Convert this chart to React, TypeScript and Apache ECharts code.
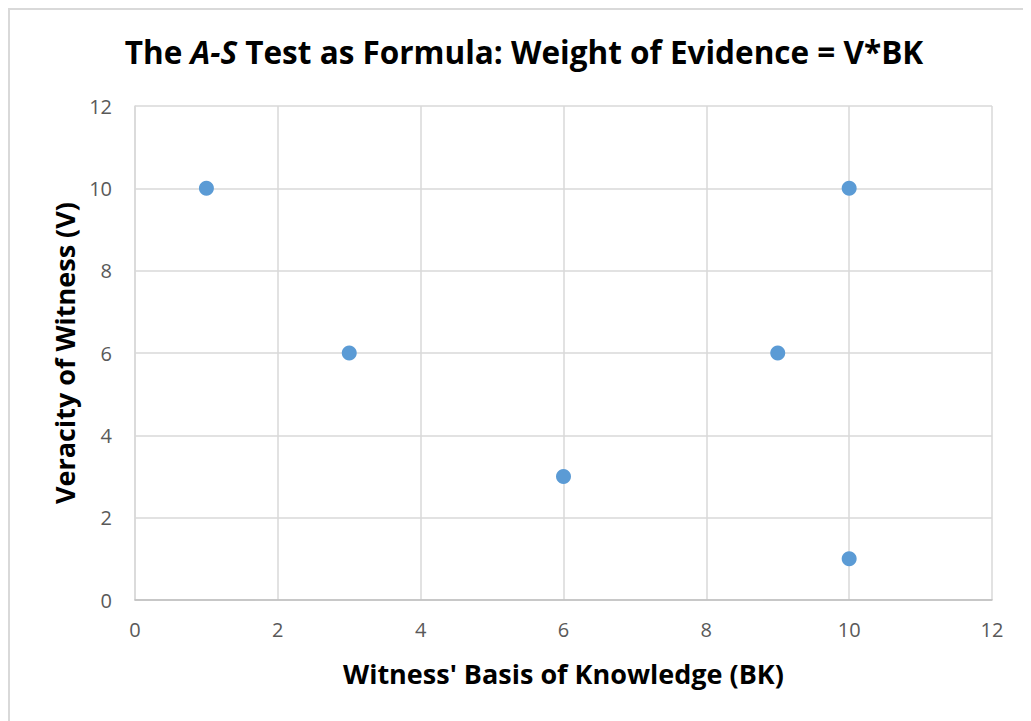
import React, { useEffect, useRef } from "react";
import * as echarts from "echarts";

const bkValues = [1, 3, 6, 9, 10, 10];
const vValues = [10, 6, 3, 6, 10, 1];
const axisTicks = [0, 2, 4, 6, 8, 10, 12];
const titleParts = ["The ", "A-S", " Test as Formula: Weight of Evidence = V*BK"];
const xAxisTitle = "Witness' Basis of Knowledge (BK)";
const yAxisTitle = "Veracity of Witness (V)";

const FONT = "'Open Sans', 'Noto Sans', sans-serif";

export default function App() {
  const ref = useRef<HTMLDivElement>(null);
  useEffect(() => {
    if (!ref.current) return;
    const chart = echarts.init(ref.current, null, { renderer: "svg" });
    const points = bkValues.map((x, i) => [x, vValues[i]]);
    chart.setOption({
      animation: false,
      backgroundColor: "#ffffff",
      title: {
        text: `{n|${titleParts[0]}}{i|${titleParts[1]}}{n|${titleParts[2]}}`,
        left: 509,
        top: 20,
        textAlign: "center",
        textStyle: {
          rich: {
            n: { fontFamily: FONT, fontWeight: "bold", fontSize: 31.5, color: "#000000" },
            i: { fontFamily: FONT, fontWeight: "bold", fontStyle: "italic", fontSize: 31.5, color: "#000000" },
          },
        },
      },
      grid: { left: 125, right: 39, top: 96, bottom: 121, containLabel: false },
      xAxis: {
        type: "value",
        min: axisTicks[0],
        max: axisTicks[axisTicks.length - 1],
        interval: 2,
        name: xAxisTitle,
        nameLocation: "middle",
        nameGap: 60,
        nameTextStyle: { fontFamily: FONT, fontWeight: "bold", fontSize: 27, color: "#000000" },
        axisLine: { show: true, lineStyle: { color: "#bfbfbf", width: 1.5 } },
        axisTick: { show: false },
        axisLabel: { fontFamily: FONT, fontSize: 20, color: "#595959", margin: 19 },
        splitLine: { show: true, lineStyle: { color: "#d9d9d9", width: 1.5 } },
      },
      yAxis: {
        type: "value",
        min: axisTicks[0],
        max: axisTicks[axisTicks.length - 1],
        interval: 2,
        name: yAxisTitle,
        nameLocation: "middle",
        nameGap: 57,
        nameTextStyle: { fontFamily: FONT, fontWeight: "bold", fontSize: 27, color: "#000000" },
        axisLine: { show: true, lineStyle: { color: "#d9d9d9", width: 1.5 } },
        axisTick: { show: false },
        axisLabel: { fontFamily: FONT, fontSize: 20, color: "#595959", margin: 23 },
        splitLine: { show: true, lineStyle: { color: "#d9d9d9", width: 1.5 } },
      },
      series: [
        {
          type: "scatter",
          data: points,
          symbol: "circle",
          symbolSize: 15,
          itemStyle: { color: "#5b9bd5", opacity: 1 },
        },
      ],
    });
    return () => chart.dispose();
  }, []);
  return (
    <div
      style={{
        borderTop: "2px solid #d9d9d9",
        borderLeft: "2px solid #d9d9d9",
        width: 1021,
        height: 711,
        overflow: "hidden",
      }}
    >
      <div ref={ref} style={{ width: 1021, height: 711 }} />
    </div>
  );
}
